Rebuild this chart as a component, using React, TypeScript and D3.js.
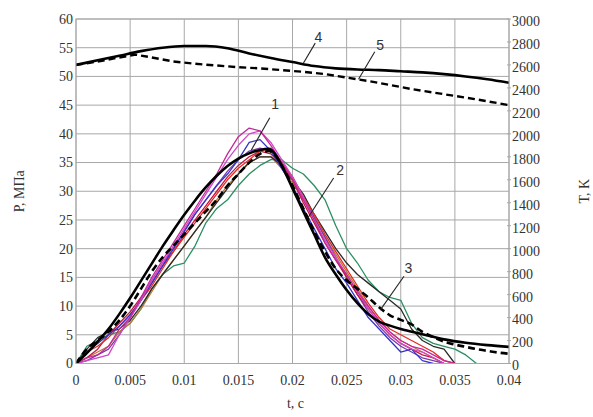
import React from 'react';
import * as d3 from 'd3';

const width = 593;
const height = 417;
const plot = { left: 76, right: 509, top: 19, bottom: 363.5 };

// axes
const tTicks = [0, 0.005, 0.01, 0.015, 0.02, 0.025, 0.03, 0.035, 0.04];
const tTickLabels = ['0', '0.005', '0.01', '0.015', '0.02', '0.025', '0.03', '0.035', '0.04'];
const pTicks = [0, 5, 10, 15, 20, 25, 30, 35, 40, 45, 50, 55, 60];
const kTicks = [0, 200, 400, 600, 800, 1000, 1200, 1400, 1600, 1800, 2000, 2200, 2400, 2600, 2800, 3000];

// experimental pressure records (curve 1), MPa, one value per 1 ms from t = 0
const expStep = 0.001;
const expMagenta = [0, 1, 1.5, 3, 6, 8, 11.5, 15, 18, 21, 24, 27, 30, 33, 36.5, 39.5, 41, 40.5, 38, 35, 32, 28.5, 25, 21, 18, 15.5, 12.5, 10, 7.5, 5.5, 4, 3, 2.5, 1.5, 0.5, 0];
const expViolet = [0, 0.5, 1, 1.5, 5, 8, 11, 14.5, 17.5, 20.5, 23.5, 26.5, 29.5, 32.5, 35.5, 38, 40, 40.5, 38.5, 35.5, 32.5, 29, 25, 21.5, 18.5, 15.5, 12.5, 9.5, 7, 5, 3.5, 2.5, 2, 1, 0];
const expBlue = [0, 2, 3.5, 5, 6.5, 8.5, 11, 14, 17, 20, 23, 26, 28.5, 31, 33, 35.5, 38.5, 39, 37, 34, 31, 27, 23.5, 20, 16.5, 14, 11, 8, 6, 4, 2, 2.5, 0.5, 0];
const expRed = [0, 2, 3, 4.5, 6.5, 8.5, 11, 13.5, 16.5, 19.5, 22, 24.5, 27, 29.5, 32, 34, 35.5, 37, 37.5, 35, 32.5, 29, 26, 22.5, 19.5, 16.5, 13.5, 10.5, 8, 6, 5, 4, 3, 2, 0.5, 0];
const expCrimson = [0, 1, 2.5, 5, 7, 9, 11.5, 14, 17, 19.5, 22.5, 25, 27.5, 30, 32.5, 34.5, 36, 37, 36.5, 34.5, 32, 28, 24.5, 21, 18, 15, 12, 9.5, 7, 5, 3.5, 2.5, 1.5, 1, 0];
const expBrown = [0, 1, 2, 3, 5.5, 7, 9.5, 12.5, 15.5, 18, 20.5, 23, 25.5, 28.5, 31, 33, 35, 36, 36, 34, 31.5, 28.5, 25.5, 22, 19, 16, 13, 10, 7.5, 5.5, 4, 3, 2, 1, 0];
const expGreen = [0, 3, 4, 5, 5.5, 7, 9.5, 13, 15.5, 17, 17.5, 20.5, 24.5, 27, 28.5, 31, 33, 34.5, 35.5, 35.5, 34, 33, 31, 28.5, 24, 20, 17.5, 14.5, 12.5, 11.5, 11, 7, 4.5, 3.5, 3, 2.5, 1.5, 0];
const expBlack = [0, 2.5, 4.5, 5.5, 6, 7.5, 10, 13, 15.5, 18, 20.5, 23, 25.5, 28, 30.5, 33, 35, 36, 36, 34.5, 32, 29.5, 26, 23, 20, 17.5, 15.5, 14, 12.5, 11, 9.5, 6, 4, 3, 2.5, 0];
const expPurple = [0, 0.5, 1.5, 2.5, 5, 8, 11, 14.5, 17.5, 20, 23, 26, 28.5, 31, 33.5, 35.5, 37, 37.5, 37, 35, 32.5, 29, 25.5, 22, 18.5, 15, 12, 9, 6.5, 4.5, 3, 2, 1, 0.5, 0];

const expSeries = [
  { values: expGreen, color: '#2b8f62' },
  { values: expBrown, color: '#b97a35' },
  { values: expBlack, color: '#2a2a2a' },
  { values: expPurple, color: '#7a3aa8' },
  { values: expCrimson, color: '#c8163f' },
  { values: expRed, color: '#e52a22' },
  { values: expBlue, color: '#3535c8' },
  { values: expViolet, color: '#d048c8' },
  { values: expMagenta, color: '#c4289a' },
];

// curve 2: calculated pressure (solid), MPa
const calcT = [0, 0.001, 0.002, 0.003, 0.004, 0.005, 0.006, 0.007, 0.008, 0.009, 0.01, 0.011, 0.012, 0.013, 0.014, 0.015, 0.016, 0.017, 0.0178, 0.0185, 0.019, 0.02, 0.021, 0.022, 0.023, 0.024, 0.025, 0.026, 0.027, 0.028, 0.029, 0.03, 0.032, 0.034, 0.036, 0.038, 0.04];
const calcP = [0, 1.8, 3.8, 6, 8.6, 11.4, 14.4, 17.4, 20.4, 23.2, 25.9, 28.4, 30.7, 32.7, 34.4, 35.7, 36.6, 37.2, 37.4, 36.2, 34.5, 30.5, 26.5, 22.5, 18.5, 15.5, 12.8, 10.5, 8.6, 7.3, 6.6, 6.0, 5.1, 4.2, 3.6, 3.2, 2.9];

// curve 3: calculated pressure (dashed), MPa
const calc2T = [0, 0.001, 0.002, 0.003, 0.004, 0.005, 0.006, 0.007, 0.008, 0.009, 0.01, 0.011, 0.012, 0.013, 0.014, 0.015, 0.016, 0.017, 0.0178, 0.0185, 0.019, 0.02, 0.021, 0.022, 0.023, 0.024, 0.025, 0.026, 0.027, 0.028, 0.029, 0.03, 0.031, 0.032, 0.033, 0.034, 0.035, 0.036, 0.037, 0.038, 0.039, 0.04];
const calc2P = [0, 2.5, 4, 5.5, 7.5, 10, 13, 16, 18.5, 20.5, 22.5, 24.5, 26.5, 28.5, 31, 33, 35, 36.5, 37, 36, 34.5, 31, 27, 23, 19.5, 16.5, 14.5, 13, 11.5, 9.8, 8.4, 7.6, 6.8, 5.5, 4.6, 3.8, 3.3, 2.9, 2.5, 2.2, 1.9, 1.7];

// curve 4: temperature (solid), K
const temp4T = [0, 0.002, 0.004, 0.006, 0.008, 0.01, 0.012, 0.014, 0.016, 0.018, 0.02, 0.022, 0.024, 0.026, 0.028, 0.03, 0.032, 0.034, 0.036, 0.038, 0.04];
const temp4K = [2600, 2640, 2680, 2720, 2750, 2765, 2765, 2745, 2700, 2660, 2625, 2590, 2570, 2560, 2555, 2545, 2535, 2520, 2500, 2475, 2445];

// curve 5: temperature (dashed), K
const temp5T = [0, 0.002, 0.004, 0.0055, 0.007, 0.009, 0.011, 0.013, 0.015, 0.017, 0.019, 0.021, 0.023, 0.025, 0.027, 0.029, 0.031, 0.033, 0.035, 0.037, 0.04];
const temp5K = [2600, 2630, 2665, 2690, 2665, 2630, 2610, 2595, 2580, 2570, 2555, 2540, 2520, 2490, 2460, 2425, 2390, 2360, 2330, 2300, 2250];

// curve number callouts: label position and leader line, in (t, P) units
const callouts = [
  { text: '1', t: 0.0184, p: 45.2, t1: 0.0179, p1: 42.8, t2: 0.0162, p2: 37.2 },
  { text: '2', t: 0.0244, p: 33.7, t1: 0.0238, p1: 32.3, t2: 0.0214, p2: 25.3 },
  { text: '3', t: 0.0307, p: 16.6, t1: 0.0303, p1: 15.2, t2: 0.0281, p2: 9.3 },
  { text: '4', t: 0.0224, p: 56.9, t1: 0.0221, p1: 55.8, t2: 0.021, p2: 52.3 },
  { text: '5', t: 0.0281, p: 55.5, t1: 0.0276, p1: 54.3, t2: 0.0261, p2: 49.5 },
];

const serif = '"Liberation Serif", "DejaVu Serif", serif';
const sans = '"Liberation Sans", Arial, sans-serif';
const gridColor = '#a8a8a8';

export default function App() {
  const x = d3.scaleLinear().domain([0, 0.04]).range([plot.left, plot.right]);
  const yP = d3.scaleLinear().domain([0, 60]).range([plot.bottom, plot.top]);
  const yK = d3.scaleLinear().domain([0, 3000]).range([plot.bottom, plot.top]);

  const lineP = d3.line<[number, number]>().x((d) => x(d[0])).y((d) => yP(d[1]));
  const lineK = d3.line<[number, number]>().x((d) => x(d[0])).y((d) => yK(d[1]));
  const smoothP = d3.line<[number, number]>().x((d) => x(d[0])).y((d) => yP(d[1])).curve(d3.curveMonotoneX);
  const smoothK = d3.line<[number, number]>().x((d) => x(d[0])).y((d) => yK(d[1])).curve(d3.curveMonotoneX);

  const zip = (ts: number[], vs: number[]) => ts.map((t, i) => [t, vs[i]] as [number, number]);

  return (
    <svg width={width} height={height} style={{ position: 'absolute', left: 0, top: 0, background: '#fff' }}>
      <defs>
        <clipPath id="plotClip">
          <rect x={plot.left} y={plot.top - 2} width={plot.right - plot.left} height={plot.bottom - plot.top + 2} />
        </clipPath>
      </defs>

      {/* grid */}
      {tTicks.map((t) => (
        <line key={'gx' + t} x1={x(t)} x2={x(t)} y1={plot.top} y2={plot.bottom} stroke={gridColor} strokeWidth={1} />
      ))}
      {pTicks.map((p) => (
        <line key={'gy' + p} x1={plot.left} x2={plot.right} y1={yP(p)} y2={yP(p)} stroke={gridColor} strokeWidth={1} />
      ))}

      {/* left axis labels */}
      {pTicks.map((p) => (
        <text key={'pl' + p} x={plot.left - 3} y={yP(p)} dy="0.35em" textAnchor="end" fontFamily={serif} fontSize={14} fill="#333">
          {p}
        </text>
      ))}

      {/* right axis ticks + labels */}
      {kTicks.map((k) => (
        <g key={'kl' + k}>
          <line x1={plot.right - 2} x2={plot.right + 2} y1={yK(k)} y2={yK(k)} stroke={gridColor} />
          <text x={plot.right + 3} y={yK(k) + 2} dy="0.35em" fontFamily={serif} fontSize={14} fill="#333">
            {k}
          </text>
        </g>
      ))}

      {/* bottom labels */}
      {tTicks.map((t, i) => (
        <text key={'tl' + t} x={x(t)} y={plot.bottom + 17} dy="0.35em" textAnchor="middle" fontFamily={serif} fontSize={14} fill="#333">
          {tTickLabels[i]}
        </text>
      ))}

      {/* axis titles */}
      <text transform={`translate(24,${(plot.top + plot.bottom) / 2}) rotate(-90)`} textAnchor="middle" fontFamily={serif} fontSize={14} fill="#333">
        P, МПа
      </text>
      <text transform={`translate(589,${(plot.top + plot.bottom) / 2}) rotate(-90)`} textAnchor="middle" fontFamily={serif} fontSize={14} fill="#333">
        T, K
      </text>
      <text x={(plot.left + plot.right) / 2 + 3} y={408} textAnchor="middle" fontFamily={serif} fontSize={14} fill="#333">
        t, c
      </text>

      <g clipPath="url(#plotClip)">
        {expSeries.map((s, i) => (
          <path
            key={'exp' + i}
            d={lineP(s.values.map((v, j) => [j * expStep, v] as [number, number])) || ''}
            fill="none"
            stroke={s.color}
            strokeWidth={1.3}
            strokeLinejoin="round"
          />
        ))}
        <path d={smoothP(zip(calcT, calcP)) || ''} fill="none" stroke="#000" strokeWidth={2.6} />
        <path d={smoothP(zip(calc2T, calc2P)) || ''} fill="none" stroke="#000" strokeWidth={2.6} strokeDasharray="7,4" />
        <path d={smoothK(zip(temp4T, temp4K)) || ''} fill="none" stroke="#000" strokeWidth={2.6} />
        <path d={lineK(zip(temp5T, temp5K)) || ''} fill="none" stroke="#000" strokeWidth={2.4} strokeDasharray="7,4" />
      </g>

      {/* frame */}
      <rect x={plot.left} y={plot.top} width={plot.right - plot.left} height={plot.bottom - plot.top} fill="none" stroke={gridColor} strokeWidth={1} />

      {/* callouts */}
      {callouts.map((c) => (
        <g key={'c' + c.text}>
          <line x1={x(c.t1)} y1={yP(c.p1)} x2={x(c.t2)} y2={yP(c.p2)} stroke="#222" strokeWidth={1.1} />
          <text x={x(c.t)} y={yP(c.p)} dy="0.35em" textAnchor="middle" fontFamily={sans} fontSize={14} fill="#333">
            {c.text}
          </text>
        </g>
      ))}
    </svg>
  );
}
